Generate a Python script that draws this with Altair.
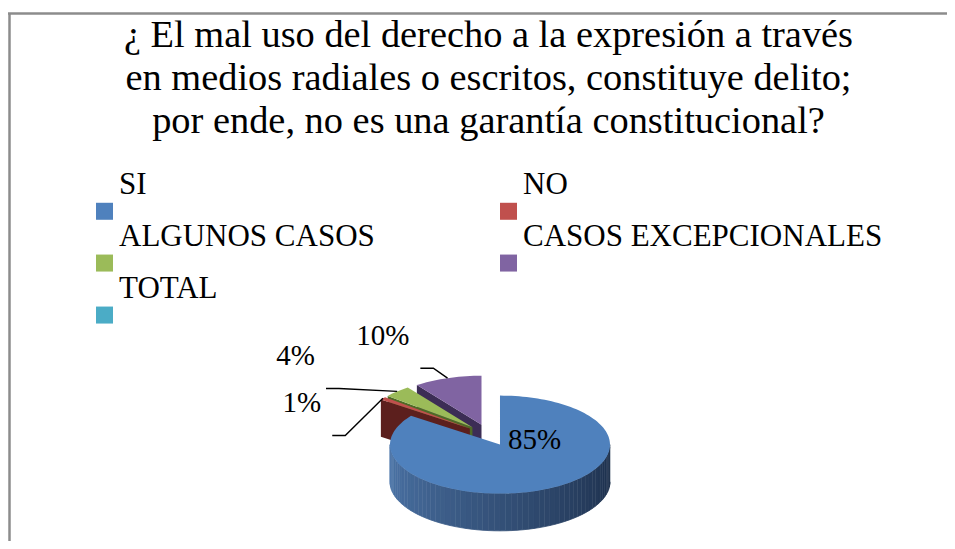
import math
import altair as alt
import pandas as pd

# ---------------- data ----------------
categories = ["SI", "NO", "ALGUNOS CASOS", "CASOS EXCEPCIONALES", "TOTAL"]
percent = [85, 1, 4, 10, 0]
title_lines = [
    "¿ El mal uso del derecho a la expresión a través",
    "en medios radiales o escritos, constituye delito;",
    "por ende, no es una garantía constitucional?",
]

# ---------------- styles / layout ----------------
colors = ["#4F81BD", "#C0504D", "#9BBB59", "#8064A2", "#4BACC6"]
face_colors = ["#2B4A74", "#5C1F1D", "#4F6A26", "#3C2D55", "#24606F"]
wall_colors = ["#1b2d48", "#4d77ab"]
FONT = "Liberation Serif"
# legend swatch drawn below-left of its label (unit square path shifted down/right)
SWATCH = "M-0.88,1.065L1.12,1.065L1.12,3.065L-0.88,3.065Z"
LEGEND_COLUMNS = 2

W, H = 939, 533
CX, CY = 481.0, 427.0      # pie centre inside the plot
AX, BY = 110.0, 49.0       # ellipse semi-axes (perspective)
DEPTH = 0.76               # pie thickness in v units
EXPLODE = 0.22
LABEL_RX, LABEL_RY = 1.064, 0.643     # radial push of outside labels (axis units)
LABEL_DX, LABEL_DY = -2.0, -3.0       # px
LABEL_CHAR_W, LABEL_H, LABEL_GAP = 16.0, 24.0, 47.0
PUSH_SLIDE = 0.9


def s_(d):
    return math.sin(math.radians(d))


def c_(d):
    return math.cos(math.radians(d))


def to_u(px):
    return (px - CX) / AX


def to_v(py):
    return (CY - py) / BY


total = float(sum(percent))
slices = []
acc = 0.0
for cat, val in zip(categories, percent):
    if val <= 0:
        continue
    s = acc / total * 360.0
    e = (acc + val) / total * 360.0
    acc += val
    slices.append((cat, val, s, e))

tops, walls, face_polys, leaders, inside, outside = [], [], [], [], [], []
for cat, val, s, e in slices:
    m = (s + e) / 2.0
    ou, ov = EXPLODE * s_(m), EXPLODE * c_(m)
    n = max(2, int(math.ceil((e - s) / 2.0)))
    pts = [(ou, ov)]
    pts += [(ou + s_(s + (e - s) * k / n), ov + c_(s + (e - s) * k / n)) for k in range(n + 1)]
    pts += [(ou, ov)]
    for k, (u, v) in enumerate(pts):
        tops.append({"cat": cat, "pid": cat, "k": k, "u": u, "v": v})
    lo, hi = max(s, 90.0), min(e, 270.0)
    if hi > lo:
        ns = int(math.ceil((hi - lo) / 3.0))
        for j in range(ns):
            t0 = lo + (hi - lo) * j / ns
            t1 = lo + (hi - lo) * (j + 1) / ns
            shade = ((t0 + t1) / 2.0 - 90.0) / 180.0
            quad = [(ou + s_(t0), ov + c_(t0)), (ou + s_(t1), ov + c_(t1)),
                    (ou + s_(t1), ov + c_(t1) - DEPTH), (ou + s_(t0), ov + c_(t0) - DEPTH)]
            for k, (u, v) in enumerate(quad):
                walls.append({"pid": f"w{j:03d}", "k": k, "u": u, "v": v, "shade": shade})
    for edge, visible in ((s, 180.0 < s < 360.0), (e, 0.0 < e < 180.0)):
        if visible:
            quad = [(ou, ov), (ou + s_(edge), ov + c_(edge)),
                    (ou + s_(edge), ov + c_(edge) - DEPTH), (ou, ov - DEPTH)]
            face_polys.append((ov, cat, quad))
    text = f"{round(val / total * 100)}%"
    if val / total >= 0.5:
        inside.append({"u": ou, "v": ov, "text": text})
    else:
        px = CX + AX * (ou + s_(m))
        py = CY - BY * (ov + c_(m))
        lx = px + LABEL_DX + AX * LABEL_RX * s_(m)     # right edge of label
        ly = py + LABEL_DY - BY * LABEL_RY * c_(m)     # baseline of label
        outside.append({"cat": cat, "lx": lx, "ly": ly, "px": px, "py": py,
                        "text": text, "w": LABEL_CHAR_W * len(text)})

# cut faces painted back to front (farther slices first)
faces = []
face_polys.sort(key=lambda t: -t[0])
for i, (_, cat, quad) in enumerate(face_polys):
    for k, (u, v) in enumerate(quad):
        faces.append({"cat": cat, "pid": f"f{i:02d}", "k": k, "u": u, "v": v})

# simple collision avoidance for outside labels (pushed labels slide toward the pie)
outside.sort(key=lambda d: d["ly"])
placed = []
for lab in outside:
    moved = True
    while moved:
        moved = False
        for p in placed:
            x_hit = (lab["lx"] - lab["w"] < p["lx"]) and (p["lx"] - p["w"] < lab["lx"])
            y_hit = abs(p["ly"] - lab["ly"]) < LABEL_H
            if x_hit and y_hit:
                new_ly = p["ly"] + LABEL_GAP
                lab["lx"] += PUSH_SLIDE * (new_ly - lab["ly"])
                lab["ly"] = new_ly
                moved = True
    placed.append(lab)

out_rows = []
for lab in placed:
    out_rows.append({"u": to_u(lab["lx"]), "v": to_v(lab["ly"]), "text": lab["text"]})
    a = (lab["lx"] + 11.0, lab["ly"] + 23.0)
    b = (lab["lx"] + 24.0, lab["ly"] + 23.0)
    for k, (x, y) in enumerate([a, b, (lab["px"], lab["py"])]):
        leaders.append({"pid": lab["cat"], "k": k, "u": to_u(x), "v": to_v(y)})

# legend entries are laid out column by column: order them so rows read SI | NO, ...
n_rows = math.ceil(len(categories) / LEGEND_COLUMNS)
legend_order = [categories[r * LEGEND_COLUMNS + c]
                for c in range(LEGEND_COLUMNS) for r in range(n_rows)
                if r * LEGEND_COLUMNS + c < len(categories)]

xs = alt.Scale(domain=[-CX / AX, (W - CX) / AX], nice=False, zero=False)
ys = alt.Scale(domain=[-(H - CY) / BY, CY / BY], nice=False, zero=False)
X = alt.X("u:Q", scale=xs, axis=None)
Y = alt.Y("v:Q", scale=ys, axis=None)

wall_layer = alt.Chart(pd.DataFrame(walls)).mark_line(filled=True, strokeWidth=0.8).encode(
    x=X, y=Y,
    fill=alt.Fill("shade:Q", scale=alt.Scale(domain=[0, 1], range=wall_colors), legend=None),
    stroke=alt.Stroke("shade:Q", scale=alt.Scale(domain=[0, 1], range=wall_colors), legend=None),
    detail="pid:N", order="k:Q",
)

face_layer = alt.Chart(pd.DataFrame(faces)).mark_line(filled=True, strokeWidth=0.5).encode(
    x=X, y=Y,
    fill=alt.Fill("cat:N", scale=alt.Scale(domain=categories, range=face_colors), legend=None),
    detail="pid:N", order="k:Q",
)

top_layer = alt.Chart(pd.DataFrame(tops)).mark_line(filled=True, strokeWidth=0).encode(
    x=X, y=Y,
    color=alt.Color(
        "cat:N",
        scale=alt.Scale(domain=categories, range=colors),
        legend=alt.Legend(
            title=None, orient="none", legendX=80, legendY=170, columns=LEGEND_COLUMNS,
            values=legend_order,
            symbolType=SWATCH, symbolSize=289, symbolStrokeWidth=0, symbolOpacity=1,
            labelFont=FONT, labelFontSize=31, labelColor="black", labelLimit=1000,
            labelBaseline="alphabetic", labelOffset=0,
            columnPadding=117, rowPadding=0, padding=0,
        ),
    ),
    detail="pid:N", order="k:Q",
)

leader_layer = alt.Chart(pd.DataFrame(leaders)).mark_line(color="black", strokeWidth=1.4).encode(
    x=X, y=Y, detail="pid:N", order="k:Q",
)

out_text = alt.Chart(pd.DataFrame(out_rows)).mark_text(
    font=FONT, fontSize=29, color="black", align="right", baseline="alphabetic"
).encode(x=X, y=Y, text="text:N")

in_text = alt.Chart(pd.DataFrame(inside)).mark_text(
    font=FONT, fontSize=29, color="black", align="left", baseline="middle", dx=8, dy=-5
).encode(x=X, y=Y, text="text:N")

frame_left = alt.Chart(pd.DataFrame({"a": [0]})).mark_rule(color="#8c8c8c", strokeWidth=2.5).encode(
    x=alt.value(1.5), y=alt.value(5), y2=alt.value(H)
)
frame_top = alt.Chart(pd.DataFrame({"a": [0]})).mark_rule(color="#8c8c8c", strokeWidth=2.5).encode(
    y=alt.value(5.5), x=alt.value(0), x2=alt.value(W)
)

chart = alt.layer(
    wall_layer, face_layer, top_layer, leader_layer, out_text, in_text, frame_left, frame_top
).resolve_scale(
    color="independent", fill="independent", stroke="independent"
).properties(
    width=W, height=H, autosize="none", padding=0,
    title=alt.TitleParams(
        text=title_lines, orient="top", anchor="middle", font=FONT, fontSize=38.4,
        fontWeight="normal", color="black", lineHeight=43, baseline="top",
        offset=-133, dx=11,
    ),
).configure_view(strokeWidth=0)

chart.save("out.html", embed_options={"renderer": "svg", "actions": False})
